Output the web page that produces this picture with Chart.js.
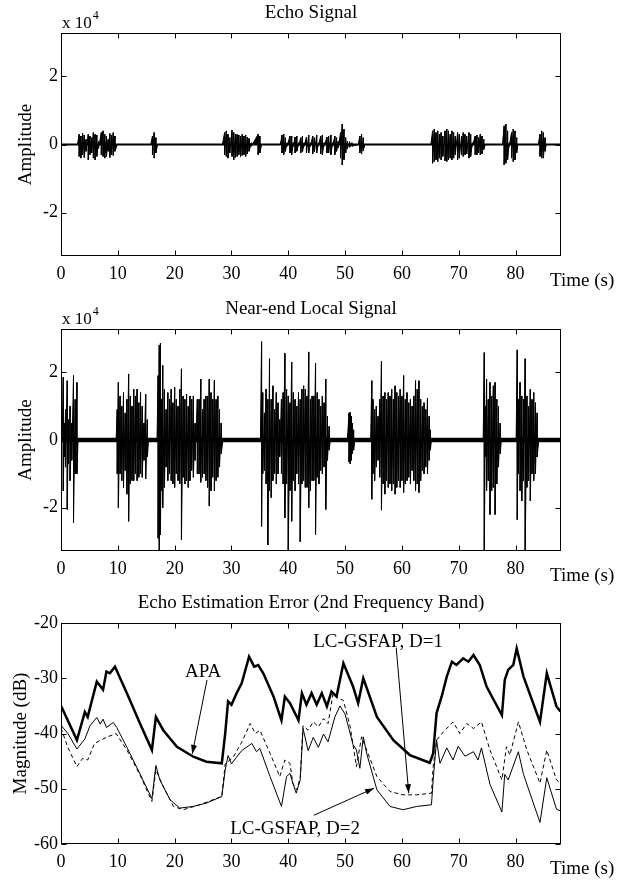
<!DOCTYPE html>
<html>
<head>
<meta charset="utf-8">
<script src="https://cdn.jsdelivr.net/npm/chart.js@4.4.1/dist/chart.umd.min.js"></script>
<style>
  html, body { margin: 0; padding: 0; background: #fff; }
  #page { position: relative; width: 625px; height: 882px; }
  canvas { position: absolute; left: 0; }
</style>
</head>
<body>
<div id="page">
  <canvas id="chartEcho" width="625" height="295" style="top:0px"></canvas>
  <canvas id="chartNear" width="625" height="295" style="top:295px"></canvas>
  <canvas id="chartError" width="625" height="292" style="top:590px"></canvas>
</div>
<script>
// tick labels
const timeTicks = [0, 10, 20, 30, 40, 50, 60, 70, 80];
const amplitudeTicks = [-2, 0, 2];
const magnitudeTicks = [-60, -50, -40, -30, -20];

// echo signal (x 10^4), one spike per time: top and bottom of the swing
const echoTime = [
  2.9, 3.2, 3.5, 3.8, 4.1, 4.4, 4.8, 5.1, 5.4, 5.7, 6.0, 6.3, 6.6, 7.1, 7.4, 7.7, 8.0, 8.3, 8.6, 8.9, 9.2, 9.5, 9.9,
  15.8, 16.1, 16.4, 16.7, 17.0,
  28.4, 28.8, 29.1, 29.4, 29.7, 30.1, 30.4, 30.7, 31.0, 31.3, 31.6, 31.9, 32.2, 32.5, 32.8, 33.1, 33.5, 34.7, 35.0, 35.3,
  38.6, 38.9, 39.2, 39.5, 39.8, 40.3, 40.6, 40.9, 41.2, 41.5, 41.8, 42.2, 42.5, 42.8, 43.2, 43.6, 43.9, 44.3, 44.6, 45.0, 45.3, 45.7, 46.0, 46.3, 46.8, 47.1, 47.5, 47.8, 48.2, 48.5, 48.8, 49.2, 49.5, 49.8, 50.1, 50.4, 50.8, 51.2, 52.3, 52.6, 52.9, 53.2, 53.5,
  65.1, 65.4, 65.7, 66.0, 66.3, 66.6, 66.9, 67.2, 67.6, 67.9, 68.2, 68.5, 68.8, 69.1, 69.4, 69.8, 70.1, 70.5, 70.8, 71.1, 71.4, 71.8, 72.1, 72.4, 72.9, 73.2, 73.5, 73.8, 74.1, 74.4, 74.7,
  77.7, 78.0, 78.3, 78.6, 78.9, 79.3, 79.6, 79.9, 80.2, 80.4,
  84.0, 84.3, 84.6, 84.9, 85.2, 85.4
];
const echoHigh = [
  0, .30, .25, .33, .28, .15, .30, .25, .20, .35, .30, .28, .10, .35, .40, .30, .25, .15, .32, .28, .35, .25, 0,
  0, .25, .35, .20, 0,
  0, .35, .40, .30, .20, .42, .35, .30, .30, .28, .25, .30, .25, .28, .22, .18, .05, .30, .25, 0,
  0, .28, .30, .20, .05, .25, .25, .05, .22, .25, .05, .20, .25, .05, .22, .28, .05, .25, .20, .28, .05, .25, .28, .05, .22, .25, .28, .05, .25, .20, .10, .35, .60, .45, .20, .10, .08, .05, 0, .25, .30, .20, 0,
  0, .40, .45, .35, .40, .30, .35, .25, .40, .45, .40, .30, .40, .35, .25, .35, .30, .25, .35, .30, .25, .35, .30, .05, .25, .28, .20, .30, .25, .15, 0,
  0, .55, .60, .40, .05, .35, .45, .40, .20, 0,
  0, .30, .40, .35, .20, 0
];
const echoLow = [
  0, -.35, -.40, -.30, -.38, -.20, -.45, -.30, -.25, -.40, -.45, -.35, -.12, -.30, -.35, -.40, -.35, -.20, -.38, -.30, -.32, -.20, 0,
  0, -.30, -.40, -.25, 0,
  0, -.30, -.35, -.40, -.25, -.35, -.45, -.38, -.35, -.30, -.35, -.32, -.30, -.35, -.28, -.20, -.05, -.30, -.25, 0,
  0, -.25, -.30, -.20, -.05, -.25, -.30, -.05, -.25, -.20, -.05, -.25, -.22, -.05, -.25, -.25, -.05, -.28, -.22, -.25, -.05, -.28, -.30, -.05, -.25, -.25, -.30, -.05, -.30, -.20, -.10, -.40, -.60, -.45, -.25, -.12, -.08, -.05, 0, -.25, -.28, -.18, 0,
  0, -.55, -.50, -.45, -.50, -.40, -.45, -.35, -.48, -.50, -.45, -.40, -.45, -.40, -.30, -.45, -.40, -.30, -.35, -.30, -.28, -.40, -.35, -.05, -.30, -.30, -.25, -.30, -.28, -.15, 0,
  0, -.60, -.55, -.45, -.05, -.40, -.50, -.45, -.25, 0,
  0, -.35, -.40, -.40, -.20, 0
];
const echoNoise = 0.03;

// near-end local signal (x 10^4)
const nearTime = [
  0.2, 0.4, 0.6, 0.8, 1.1, 1.3, 1.6, 1.9, 2.2, 2.5, 2.8, 3.0,
  9.7, 9.9, 10.1, 10.4, 10.7, 11.0, 11.3, 11.6, 11.9, 12.2, 12.5, 12.8, 13.1, 13.4, 13.7, 14.0, 14.3, 14.6, 14.9, 15.2, 15.4,
  16.9, 17.1, 17.3, 17.5, 17.7, 17.9, 18.2, 18.5, 18.8, 19.1, 19.4, 19.7, 20.0, 20.3, 20.6, 20.9, 21.2, 21.5, 21.8, 22.1, 22.4, 22.7, 23.0, 23.3, 23.6, 24.0, 24.3, 24.6, 24.9, 25.2, 25.5, 25.8, 26.1, 26.4, 26.7, 27.0, 27.3, 27.6, 27.9, 28.2, 28.5,
  35.1, 35.3, 35.5, 35.8, 36.1, 36.4, 36.7, 37.0, 37.3, 37.6, 37.9, 38.2, 38.5, 38.8, 39.1, 39.4, 39.7, 40.0, 40.3, 40.6, 40.9, 41.2, 41.5, 41.8, 42.1, 42.4, 42.7, 43.0, 43.3, 43.6, 43.9, 44.2, 44.5, 44.8, 45.1, 45.4, 45.7, 46.0, 46.3, 46.6, 46.9, 47.2, 47.4,
  50.4, 50.7, 50.9, 51.1, 51.3, 51.5, 51.7,
  54.5, 54.7, 54.9, 55.2, 55.5, 55.8, 56.1, 56.4, 56.7, 57.0, 57.3, 57.6, 57.9, 58.2, 58.5, 58.8, 59.1, 59.4, 59.7, 60.0, 60.3, 60.6, 60.9, 61.2, 61.5, 61.8, 62.1, 62.4, 62.7, 63.0, 63.3, 63.6, 63.9, 64.2, 64.5, 64.8, 65.0, 65.2,
  74.3, 74.5, 74.7, 74.9, 75.2, 75.5, 75.8, 76.1, 76.4, 76.7, 77.0, 77.3, 77.5,
  80.1, 80.3, 80.5, 80.8, 81.1, 81.4, 81.7, 82.0, 82.3, 82.6, 82.9, 83.2, 83.5, 83.8, 84.1
];
const nearHigh = [
  0, 1.85, .5, .9, 1.75, .6, 1.0, .5, 1.9, 1.2, 1.7, 0,
  0, .9, 1.7, 1.3, 1.0, 1.4, .8, 1.2, 1.95, 1.3, 1.0, 1.5, 1.3, 1.5, 1.1, 1.4, 1.0, .5, 1.35, .6, 0,
  0, 1.9, 2.8, 2.85, 1.2, 2.2, 1.5, .9, 1.4, 1.2, 1.5, 1.1, 1.55, 1.2, 1.0, 1.5, 2.1, 1.3, 1.2, 1.35, 1.0, 1.3, 1.2, 1.3, .5, 1.2, 1.2, 1.8, .9, 1.2, 1.3, 1.3, 1.8, 1.4, 1.2, 1.77, 1.2, 1.3, .9, .5, 0,
  0, 2.9, 1.4, .8, 1.5, 1.2, 2.4, 1.2, 1.6, .9, 1.4, 1.1, .6, 1.2, 1.4, 2.56, 1.5, 1.3, 1.1, 2.3, 1.4, 1.2, 1.0, 1.4, 1.2, 1.5, 1.6, 1.5, 1.3, 2.6, 1.2, 1.3, 1.3, 2.27, 1.4, 1.2, 1.0, 1.3, 1.1, 1.8, .7, .4, 0,
  0, .8, .82, .7, .5, .3, 0,
  0, 1.75, 1.2, .9, 1.0, .7, 1.2, 2.33, 1.3, 1.4, 1.2, 1.4, 1.3, 1.5, 1.2, 1.6, 1.4, 1.3, 1.5, 1.3, 1.9, 1.2, 1.4, 1.1, 1.2, 1.0, 1.3, 1.75, 1.5, 1.75, 1.2, 1.0, 1.1, .9, 1.23, .7, .3, 0,
  0, 2.58, 1.0, 1.8, 1.2, 1.7, 1.3, 1.6, 1.7, 1.2, 1.0, .5, 0,
  0, 2.66, 1.2, 1.7, 1.3, 1.2, 2.4, 1.3, 1.0, 1.5, 1.2, 1.4, 1.1, .8, 0
];
const nearLow = [
  0, -1.5, -.5, -.8, -2.05, -.7, -1.2, -.6, -2.45, -1.0, -1.0, 0,
  0, -1.0, -2.0, -1.0, -1.2, -1.4, -.9, -1.6, -2.4, -1.3, -1.2, -1.2, -1.0, -1.2, -1.1, -1.0, -1.1, -.6, -1.15, -.5, 0,
  0, -2.9, -3.3, -2.8, -1.5, -2.0, -1.4, -.8, -1.2, -1.0, -1.2, -1.3, -1.4, -1.0, -1.2, -1.3, -2.95, -1.1, -1.3, -1.2, -1.4, -1.2, -.9, -1.1, -.6, -1.0, -1.0, -1.25, -1.1, -1.0, -1.2, -1.4, -1.95, -1.5, -1.1, -1.5, -1.2, -1.1, -.8, -.4, 0,
  0, -2.55, -1.0, -.9, -1.3, -3.1, -1.5, -1.7, -1.2, -1.0, -1.3, -1.0, -.5, -1.0, -1.3, -2.3, -1.3, -3.3, -1.5, -2.4, -1.2, -1.5, -1.0, -1.3, -3.0, -1.3, -1.2, -1.4, -1.4, -2.0, -1.5, -1.2, -1.2, -2.8, -1.1, -1.3, -.9, -1.0, -.8, -2.05, -.6, -.3, 0,
  0, -.65, -.7, -.6, -.4, -.3, 0,
  0, -1.75, -1.0, -1.2, -.8, -.6, -1.1, -2.07, -1.3, -1.6, -1.2, -1.4, -1.3, -1.5, -1.3, -1.6, -1.4, -1.2, -1.4, -1.2, -1.55, -1.3, -1.2, -1.1, -1.3, -.9, -1.2, -1.5, -1.3, -1.55, -1.2, -.9, -1.0, -.8, -1.0, -.6, -.3, 0,
  0, -3.3, -.5, -1.5, -1.2, -2.2, -1.5, -1.4, -2.2, -1.3, -.8, -.4, 0,
  0, -2.35, -1.0, -1.5, -1.8, -1.2, -3.3, -1.4, -1.2, -1.8, -1.0, -1.2, -1.0, -.5, 0
];
const nearNoise = 0.07;

// echo estimation error (dB)
const apaTime = [0, 2.8, 4.2, 4.7, 6.3, 7.4, 8.0, 8.6, 9.5, 11.6, 13.9, 16.0, 16.7, 18.0, 20.4, 23.3, 25.6, 28.3, 28.9, 29.4,
  30.0, 30.9, 31.8, 33.1, 34.0, 34.7, 35.6, 37.4, 38.8, 39.4, 40.3, 41.8, 42.4, 43.2, 44.1, 45.0, 45.9, 46.8, 47.6, 48.5,
  49.7, 51.4, 52.3, 53.2, 55.6, 58.5, 61.4, 64.9, 65.5, 66.1, 67.0, 67.9, 68.8, 69.6, 70.8, 71.7, 72.6, 73.7, 74.9, 77.6,
  78.1, 78.7, 79.6, 80.2, 81.4, 84.3, 85.5, 87.2, 87.9];
const apaDb = [-35, -41.2, -36.1, -37, -30.6, -32.1, -28.8, -29.1, -27.9, -32.7, -38.2, -43, -37, -39.4, -42.4, -44.2, -45.1, -45.4, -40, -34.2,
  -34.8, -32.7, -30.9, -26.1, -27.9, -27.6, -29.1, -33.3, -37.6, -33.3, -34.5, -37.6, -32.7, -34.8, -32.7, -34.8, -32.7, -35.1, -32.4, -33.3,
  -27.3, -31.5, -34.5, -30, -37, -41.2, -43.9, -45.3, -43.6, -36.3, -33.3, -29.7, -27, -27.6, -26.4, -27, -25.8, -27.6, -31.5, -36.7,
  -30.3, -28.5, -27.6, -24.6, -29.7, -37.9, -29.1, -35.1, -36];

const d2Time = [0, 1.2, 2.8, 4.2, 5.1, 6.3, 6.9, 7.4, 8.0, 9.2, 9.8, 11.6, 13.9, 16.0, 16.7, 17.4, 19.2, 20.9, 23.3, 25.6,
  28.3, 28.9, 29.4, 30.0, 30.9, 31.8, 33.6, 34.4, 35.0, 36.8, 38.8, 39.7, 40.3, 40.8, 41.4, 42.1, 42.6, 43.5, 44.4, 45.3,
  46.2, 47.0, 48.2, 49.1, 50.0, 51.4, 52.0, 52.6, 53.2, 53.8, 55.6, 57.9, 60.2, 62.6, 65.2, 65.5, 66.1, 66.7, 67.9, 69.0,
  69.9, 71.1, 72.6, 73.4, 74.0, 75.5, 77.6, 78.1, 78.7, 80.5, 81.4, 84.3, 85.5, 87.2, 87.9];
const d2Db = [-38.5, -40, -42.8, -41, -38.6, -37.1, -38.3, -37.4, -38.9, -38, -38.9, -42.5, -47.3, -51.8, -45.8, -48.4, -52, -53.5, -53.2, -52.6,
  -51.4, -46.6, -44, -45.5, -44.3, -43.1, -41.8, -43.3, -42.7, -47.8, -53.2, -47.8, -47.2, -49, -50.8, -48.4, -39.1, -43.1, -40.7, -42.5,
  -40.1, -41.5, -37, -35, -36.5, -42, -43, -46.3, -40.6, -43.6, -50.2, -53.2, -53.8, -53.2, -52.9, -48.4, -41.2, -45.4, -42.6, -44.8,
  -42.3, -44.1, -43.3, -44.8, -42.6, -49.2, -54.2, -47.4, -48.4, -43.3, -47.4, -56.1, -48, -53.7, -54];

const d1Time = [0, 1.2, 2.8, 3.8, 4.7, 5.9, 7.0, 8.2, 9.7, 11.6, 13.9, 16.0, 16.7, 18.0, 19.8, 21.5, 24.4, 28.3, 28.9, 30.3,
  31.8, 33.3, 34.2, 35.0, 36.8, 38.5, 39.4, 40.3, 40.8, 41.5, 42.1, 42.6, 43.5, 44.4, 45.3, 46.2, 47.0, 47.9, 48.8, 49.7,
  50.9, 52.0, 52.9, 53.8, 55.6, 57.9, 60.2, 62.6, 65.2, 65.5, 66.1, 67.3, 69.0, 70.2, 71.4, 72.6, 74.0, 75.5, 77.6, 78.4,
  79.0, 80.5, 82.0, 84.3, 85.5, 87.2, 87.9];
const d1Db = [-39, -42.5, -46, -44.5, -44.8, -41.8, -41.2, -40.6, -40, -43, -47.5, -52.3, -46.6, -49.6, -53.2, -53.8, -52.9, -51.4, -45.5, -44.3,
  -41.6, -38.2, -40, -39.4, -43.6, -47.8, -44.8, -45.4, -49, -50.2, -48, -38.6, -39.4, -37.9, -38.8, -37.3, -38.2, -32.7, -33.6, -34,
  -38.8, -46, -40.6, -43, -47.8, -50.5, -51.1, -51.1, -50.8, -46, -41.2, -39.7, -37.9, -40, -38.2, -39.1, -37.9, -43, -48.4, -42.4,
  -43.9, -37.9, -43, -49, -43, -48.4, -49];

const FONT = '"Liberation Serif", "Times New Roman", serif';
Chart.defaults.font.family = FONT;
Chart.defaults.font.size = 18;
Chart.defaults.color = '#000';
Chart.defaults.animation = false;

const toPoints = (xs, ys) => xs.map((x, i) => ({ x: x, y: ys[i] }));

// each spike: top then bottom at the same time
function spikes(times, highs, lows) {
  const pts = [];
  times.forEach((t, i) => {
    pts.push({ x: t, y: highs[i] });
    pts.push({ x: t, y: lows[i] });
  });
  return pts;
}

// box, inward ticks and the texts round the axes
const framePlugin = {
  id: 'frame',
  afterDraw(chart, args, opts) {
    const ctx = chart.ctx;
    const a = chart.chartArea;
    const xs = chart.scales.x, ys = chart.scales.y;
    const L = Math.round(a.left) + 0.5, R = Math.round(a.right) - 0.5;
    const T = Math.round(a.top) + 0.5, B = Math.round(a.bottom) - 0.5;
    ctx.save();
    ctx.strokeStyle = '#000';
    ctx.lineWidth = 1;
    ctx.strokeRect(L, T, R - L, B - T);
    ctx.beginPath();
    xs.ticks.forEach(t => {
      const px = Math.round(xs.getPixelForValue(t.value)) + 0.5;
      ctx.moveTo(px, B); ctx.lineTo(px, B - 5);
      ctx.moveTo(px, T); ctx.lineTo(px, T + 5);
    });
    ys.ticks.forEach(t => {
      const py = Math.round(ys.getPixelForValue(t.value)) + 0.5;
      ctx.moveTo(L, py); ctx.lineTo(L + 5, py);
      ctx.moveTo(R, py); ctx.lineTo(R - 5, py);
    });
    ctx.stroke();

    ctx.fillStyle = '#000';
    ctx.font = '19px ' + FONT;
    ctx.textAlign = 'center';
    ctx.textBaseline = 'middle';
    ctx.fillText(opts.title, (a.left + a.right) / 2, a.top - 20);
    ctx.textAlign = 'left';
    ctx.fillText('Time (s)', 550, a.bottom + 25);
    if (opts.exponent) {
      ctx.font = '17px ' + FONT;
      ctx.textBaseline = 'alphabetic';
      ctx.fillText('x 10', 62, a.top - 5);
      const w = ctx.measureText('x 10').width;
      ctx.font = '12px ' + FONT;
      ctx.fillText('4', 62 + w + 1, a.top - 14);
    }
    ctx.font = '19px ' + FONT;
    ctx.translate(opts.labelX, (a.top + a.bottom) / 2);
    ctx.rotate(-Math.PI / 2);
    ctx.textAlign = 'center';
    ctx.textBaseline = 'middle';
    ctx.fillText(opts.yLabel, 0, 0);
    ctx.restore();
  }
};

// text labels with arrows, placed in data units
const notePlugin = {
  id: 'notes',
  afterDatasetsDraw(chart, args, opts) {
    const ctx = chart.ctx;
    const xs = chart.scales.x, ys = chart.scales.y;
    ctx.save();
    ctx.fillStyle = '#000';
    ctx.strokeStyle = '#000';
    ctx.lineWidth = 1;
    ctx.font = '19px ' + FONT;
    ctx.textAlign = 'center';
    ctx.textBaseline = 'middle';
    opts.items.forEach(n => {
      ctx.fillText(n.text, xs.getPixelForValue(n.at[0]), ys.getPixelForValue(n.at[1]));
      const x1 = xs.getPixelForValue(n.from[0]), y1 = ys.getPixelForValue(n.from[1]);
      const x2 = xs.getPixelForValue(n.to[0]), y2 = ys.getPixelForValue(n.to[1]);
      ctx.beginPath();
      ctx.moveTo(x1, y1);
      ctx.lineTo(x2, y2);
      ctx.stroke();
      const ang = Math.atan2(y2 - y1, x2 - x1);
      const len = 9, half = 3;
      ctx.beginPath();
      ctx.moveTo(x2, y2);
      ctx.lineTo(x2 - len * Math.cos(ang) + half * Math.sin(ang), y2 - len * Math.sin(ang) - half * Math.cos(ang));
      ctx.lineTo(x2 - len * Math.cos(ang) - half * Math.sin(ang), y2 - len * Math.sin(ang) + half * Math.cos(ang));
      ctx.closePath();
      ctx.fill();
    });
    ctx.restore();
  }
};

function makeScales(yMin, yMax, yTicks, scaleHeight) {
  return {
    x: {
      type: 'linear', min: 0, max: 88,
      afterBuildTicks: s => { s.ticks = timeTicks.map(v => ({ value: v })); },
      ticks: { padding: 7, maxRotation: 0, autoSkip: false },
      grid: { display: false, drawTicks: false },
      border: { display: false },
      afterFit: s => { s.height = scaleHeight; }
    },
    y: {
      type: 'linear', min: yMin, max: yMax,
      afterBuildTicks: s => { s.ticks = yTicks.map(v => ({ value: v })); },
      ticks: { padding: 3, callback: v => String(v) },
      grid: { display: false, drawTicks: false },
      border: { display: false },
      afterFit: s => { s.width = 61; }
    }
  };
}

function waveChart(id, times, highs, lows, noise, title, top) {
  const config = {
    type: 'line',
    data: {
      datasets: [
        { data: [{ x: 0, y: noise }, { x: 88, y: noise }], borderWidth: 0, pointRadius: 0, fill: '+1', backgroundColor: '#000' },
        { data: [{ x: 0, y: -noise }, { x: 88, y: -noise }], borderWidth: 0, pointRadius: 0, fill: false },
        { data: spikes(times, highs, lows), borderColor: '#000', backgroundColor: '#000', borderWidth: 1, pointRadius: 0, tension: 0, fill: { value: 0 } }
      ]
    },
    options: {
      responsive: false,
      events: [],
      layout: { padding: { top: top, right: 64, left: 0, bottom: 0 } },
      scales: makeScales(-3.2768, 3.2768, amplitudeTicks, 39),
      plugins: {
        legend: { display: false },
        tooltip: { enabled: false },
        frame: { title: title, yLabel: 'Amplitude', labelX: 26, exponent: true }
      }
    },
    plugins: [framePlugin]
  };
  return new Chart(document.getElementById(id), config);
}

waveChart('chartEcho', echoTime, echoHigh, echoLow, echoNoise, 'Echo Signal', 33);
waveChart('chartNear', nearTime, nearHigh, nearLow, nearNoise, 'Near-end Local Signal', 34);

// error curves
(function () {
  const config = {
    type: 'line',
    data: {
      datasets: [
        { label: 'LC-GSFAP, D=1', data: toPoints(d1Time, d1Db), borderColor: '#000', borderWidth: 1, borderDash: [4, 3], pointRadius: 0, tension: 0 },
        { label: 'LC-GSFAP, D=2', data: toPoints(d2Time, d2Db), borderColor: '#000', borderWidth: 1, pointRadius: 0, tension: 0 },
        { label: 'APA', data: toPoints(apaTime, apaDb), borderColor: '#000', borderWidth: 2.5, pointRadius: 0, tension: 0 }
      ]
    },
    options: {
      responsive: false,
      events: [],
      layout: { padding: { top: 33, right: 64, left: 0, bottom: 0 } },
      scales: makeScales(-60, -20, magnitudeTicks, 38),
      plugins: {
        legend: { display: false },
        tooltip: { enabled: false },
        frame: { title: 'Echo Estimation Error (2nd Frequency Band)', yLabel: 'Magnitude (dB)', labelX: 21, exponent: false },
        notes: {
          items: [
            { text: 'APA', at: [25.0, -28.9], from: [25.7, -30.3], to: [23.1, -43.7] },
            { text: 'LC-GSFAP, D=1', at: [55.8, -23.4], from: [59.0, -24.5], to: [61.2, -50.8] },
            { text: 'LC-GSFAP, D=2', at: [41.2, -57.3], from: [44.5, -54.8], to: [55.1, -49.9] }
          ]
        }
      }
    },
    plugins: [framePlugin, notePlugin]
  };
  new Chart(document.getElementById('chartError'), config);
})();
</script>
</body>
</html>
